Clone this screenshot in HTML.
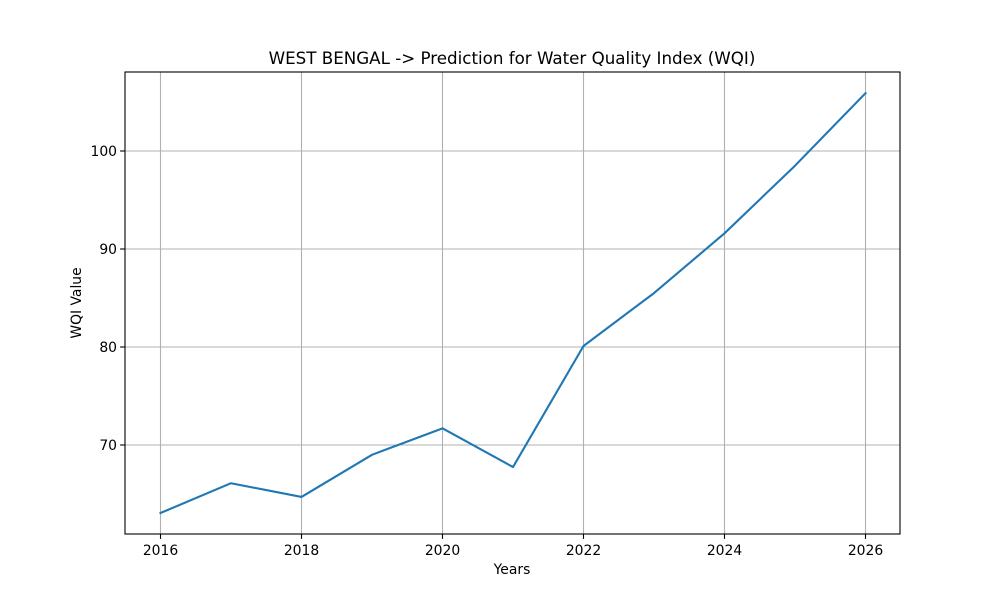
<!DOCTYPE html>
<html><head><meta charset="utf-8"><style>
body{margin:0;background:#fff;}
svg text{font-family:"DejaVu Sans","Liberation Sans",sans-serif;}
</style></head><body>
<svg id="chart" width="1000" height="600" xmlns="http://www.w3.org/2000/svg">
<rect width="1000" height="600" fill="#fff"/>
<g id="grid"></g>
<g id="ticks"></g>
<polyline id="line" fill="none" stroke="#1f77b4" stroke-width="2.1" stroke-linejoin="round" stroke-linecap="square"/>
<rect x="125" y="72" width="775" height="462" fill="none" stroke="#000" stroke-width="1.1"/>
<text x="512" y="64" text-anchor="middle" font-size="16.7">WEST BENGAL -&gt; Prediction for Water Quality Index (WQI)</text>
<text x="512" y="574" text-anchor="middle" font-size="13.9">Years</text>
<text x="81" y="303" text-anchor="middle" font-size="13.9" transform="rotate(-90 81 303)">WQI Value</text>
</svg>
<script>
const years=[2016,2017,2018,2019,2020,2021,2022,2023,2024,2025,2026];
const wqi=[63.06,66.1,64.7,69.0,71.7,67.75,80.1,85.5,91.6,98.5,105.9];
const xTicks=[2016,2018,2020,2022,2024,2026];
const yTicks=[70,80,90,100];
const NS="http://www.w3.org/2000/svg";
const x=v=>160.5+(v-2016)*70.5;
const y=v=>445-(v-70)*9.8;
const grid=document.getElementById('grid'),ticks=document.getElementById('ticks');
function mk(t,a,p){const e=document.createElementNS(NS,t);for(const k in a)e.setAttribute(k,a[k]);p.appendChild(e);return e;}
xTicks.forEach(t=>{
 const g=mk('line',{x1:x(t),x2:x(t),y1:72,y2:534,stroke:'#b0b0b0','stroke-width':1.1},grid);
 
 
 mk('line',{x1:x(t),x2:x(t),y1:534,y2:538.9,stroke:'#000','stroke-width':1.1},ticks);
 const l=mk('text',{x:x(t),y:555,'text-anchor':'middle','font-size':13.9},ticks);
 l.textContent=t;
 
 
});
yTicks.forEach(t=>{
 const g=mk('line',{x1:125,x2:900,y1:y(t),y2:y(t),stroke:'#b0b0b0','stroke-width':1.1},grid);
 
 
 mk('line',{x1:120.1,x2:125,y1:y(t),y2:y(t),stroke:'#000','stroke-width':1.1},ticks);
 const l=mk('text',{x:117,y:y(t)+5,'text-anchor':'end','font-size':13.9},ticks);
 l.textContent=t;
 
 
});
document.getElementById('line').setAttribute('points',years.map((yr,i)=>x(yr)+','+y(wqi[i])).join(' '));
</script>
</body></html>
